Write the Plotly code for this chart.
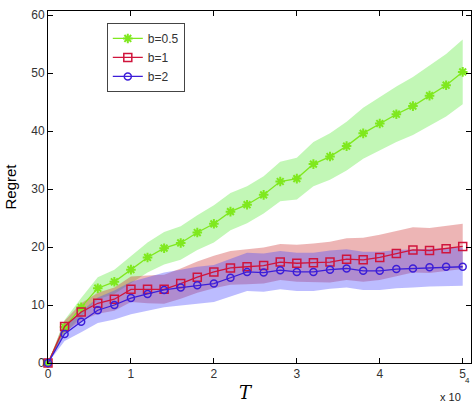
import plotly.graph_objects as go

T = [0, 2000, 4000, 6000, 8000, 10000, 12000, 14000, 16000, 18000, 20000, 22000, 24000,
     26000, 28000, 30000, 32000, 34000, 36000, 38000, 40000, 42000, 44000, 46000, 48000, 50000]

green_mean = [0, 6.2, 9.6, 12.9, 14.0, 16.1, 18.2, 19.8, 20.7, 22.5, 24.0, 26.1, 27.3,
              29.0, 31.3, 31.8, 34.3, 35.6, 37.4, 39.6, 41.3, 42.9, 44.3, 46.1, 47.9, 50.2]
red_mean = [0, 6.3, 8.8, 10.3, 11.0, 12.7, 12.7, 12.7, 13.7, 14.8, 15.7, 16.4, 16.6,
            16.8, 17.4, 17.2, 17.3, 17.4, 17.9, 17.8, 18.2, 18.9, 19.5, 19.4, 19.7, 20.1]
blue_mean = [0, 5.0, 7.1, 9.1, 10.0, 11.2, 11.9, 12.6, 13.0, 13.4, 13.7, 14.7, 15.7,
             15.6, 16.0, 15.7, 15.7, 16.1, 16.3, 15.9, 15.9, 16.2, 16.3, 16.5, 16.6, 16.6]

green_sd = [0, 1.2, 1.6, 1.9, 2.1, 2.4, 2.6, 2.8, 2.9, 3.0, 3.2, 3.2, 3.2,
            3.2, 3.4, 3.6, 3.8, 4.0, 4.2, 4.4, 4.6, 4.8, 5.0, 5.2, 5.4, 5.6]
red_sd = [0, 1.0, 1.5, 1.8, 2.0, 2.2, 2.4, 2.5, 2.6, 2.7, 2.8, 2.9, 3.0,
          3.1, 3.1, 3.2, 3.3, 3.5, 3.6, 3.8, 3.9, 3.9, 3.9, 3.9, 3.9, 3.9]
blue_sd = [0, 1.2, 1.8, 2.2, 2.5, 2.8, 2.9, 3.0, 3.1, 3.2, 3.2, 3.3, 3.3,
           3.3, 3.3, 3.3, 3.3, 3.3, 3.3, 3.3, 3.3, 3.3, 3.3, 3.3, 3.3, 3.3]

names = ["b=0.5", "b=1", "b=2"]
x_ticks = [0, 10000, 20000, 30000, 40000, 50000]
x_ticktext = ["0", "1", "2", "3", "4", "5"]
y_ticks = [0, 10, 20, 30, 40, 50, 60]

series = [
    (names[0], green_mean, green_sd, "#7fe81e", "rgba(110,235,80,0.42)", "asterisk-open", 8, 2.0),
    (names[1], red_mean, red_sd, "#d0143c", "rgba(205,50,50,0.36)", "square-open", 8, 1.5),
    (names[2], blue_mean, blue_sd, "#3c1ed8", "rgba(70,70,255,0.36)", "circle-open", 7, 1.5),
]

fig = go.Figure()

for name, m, s, lc, fc, sym, ms, mw in series:
    upper = [a + b for a, b in zip(m, s)]
    lower = [a - b for a, b in zip(m, s)]
    fig.add_trace(go.Scatter(
        x=T + T[::-1], y=upper + lower[::-1], fill="toself", fillcolor=fc,
        line=dict(width=0), mode="lines", showlegend=False, hoverinfo="skip"))

for name, m, s, lc, fc, sym, ms, mw in series:
    fig.add_trace(go.Scatter(
        x=T, y=m, name=name, mode="lines+markers", cliponaxis=False,
        line=dict(color=lc, width=1.3),
        marker=dict(symbol=sym, size=ms, color=lc, line=dict(color=lc, width=mw))))

fig.update_layout(
    width=476, height=406,
    margin=dict(l=48, r=5, t=11, b=43),
    paper_bgcolor="white", plot_bgcolor="white",
    font=dict(family="Liberation Sans, Arial, sans-serif", size=12, color="#333333"),
    showlegend=True,
    legend=dict(x=0.139, y=0.966, xanchor="left", yanchor="top",
                bgcolor="white", bordercolor="#444444", borderwidth=1,
                font=dict(size=12, color="#333333"), tracegroupgap=0,
                itemwidth=30),
    xaxis=dict(range=[0, 51000], tickvals=x_ticks, ticktext=x_ticktext,
               ticks="inside", ticklen=5, tickcolor="black",
               showline=True, linecolor="black", linewidth=1, mirror="ticks",
               showgrid=False, zeroline=False),
    yaxis=dict(range=[0, 60.7], tickvals=y_ticks,
               ticks="inside", ticklen=5, tickcolor="black",
               showline=True, linecolor="black", linewidth=1, mirror="ticks",
               showgrid=False, zeroline=False,
               title=dict(text="Regret", font=dict(size=15, color="black"), standoff=10)),
)

fig.add_annotation(text="<i>T</i>", xref="paper", yref="paper", x=(246 - 48) / 423, y=-0.085,
                   showarrow=False, xanchor="center", yanchor="middle",
                   font=dict(family="DejaVu Serif, Liberation Serif, serif", size=18, color="black"))
fig.add_annotation(text="x 10", xref="paper", yref="paper", x=(463 - 48) / 423, y=-0.097,
                   showarrow=False, xanchor="right", yanchor="middle",
                   font=dict(size=11, color="#222222"))
fig.add_annotation(text="4", xref="paper", yref="paper", x=(467 - 48) / 423, y=-0.050,
                   showarrow=False, xanchor="center", yanchor="middle",
                   font=dict(size=8, color="#222222"))

fig.write_html("out.html")
